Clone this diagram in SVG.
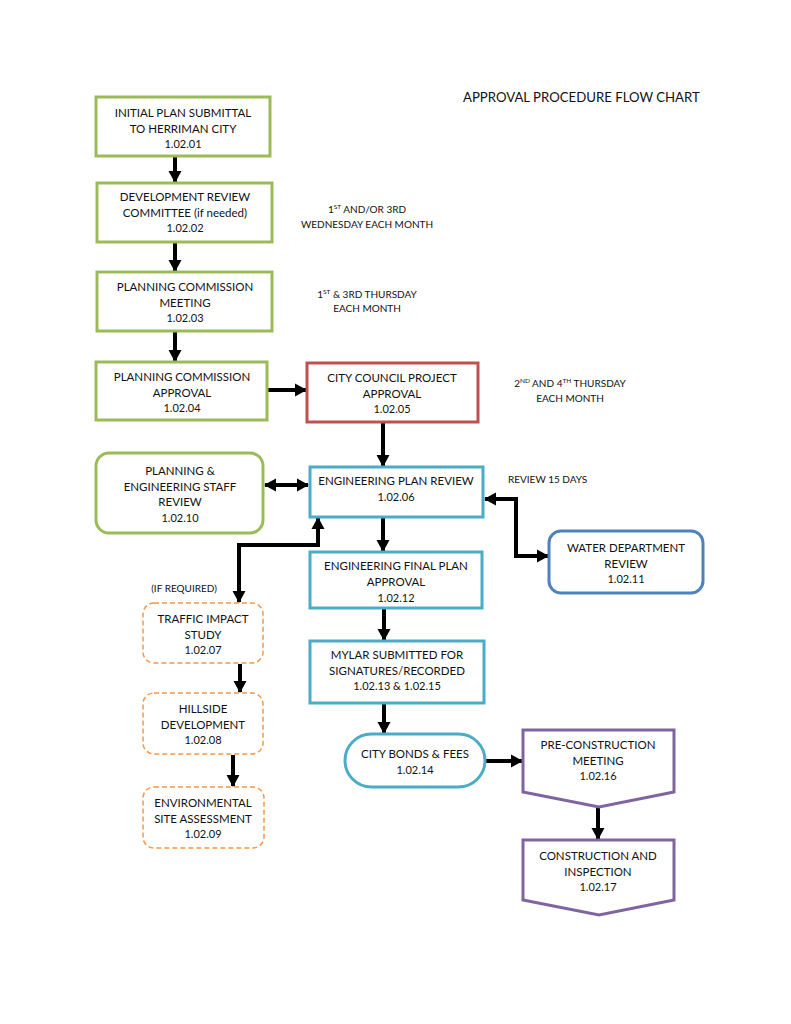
<svg xmlns="http://www.w3.org/2000/svg" width="791" height="1024" viewBox="0 0 791 1024">
<defs>
<style>
text{font-family:Lato,"Open Sans","Liberation Sans",sans-serif;font-size:11.5px;fill:#111;text-anchor:middle}
.n{font-size:11px}
.note{font-size:10px}
.sup{font-size:6.5px}
.title{font-size:13.2px;text-anchor:start}
.g{fill:#fff;stroke:#9BBB59;stroke-width:3}
.r{fill:#fff;stroke:#C0504D;stroke-width:3}
.t{fill:#fff;stroke:#4BACC6;stroke-width:3}
.b{fill:#fff;stroke:#4F81BD;stroke-width:3}
.o{fill:#fff;stroke:#F79646;stroke-width:1.5;stroke-dasharray:5 3}
.p{fill:#fff;stroke:#8064A2;stroke-width:3}
.c{fill:none;stroke:#000;stroke-width:4}
</style>
<marker id="ah" markerUnits="userSpaceOnUse" markerWidth="14" markerHeight="14" refX="11" refY="7" orient="auto-start-reverse">
<path d="M0,0.5 L12,7 L0,13.5 Z" fill="#000"/>
</marker>
</defs>
<rect width="791" height="1024" fill="#fff"/>
<text class="title" x="463" y="102">APPROVAL PROCEDURE FLOW CHART</text>
<g id="connectors">
<path class="c" d="M175,157 V182" marker-end="url(#ah)"/>
<path class="c" d="M175,243 V271" marker-end="url(#ah)"/>
<path class="c" d="M175,332 V361" marker-end="url(#ah)"/>
<path class="c" d="M268,390 H306" marker-end="url(#ah)"/>
<path class="c" d="M383,423 V466" marker-end="url(#ah)"/>
<path class="c" d="M265,485 H308" marker-start="url(#ah)" marker-end="url(#ah)"/>
<path class="c" d="M239,602 V545 H318 V518" marker-start="url(#ah)" marker-end="url(#ah)"/>
<path class="c" d="M485,499 H516 V556 H548" marker-start="url(#ah)" marker-end="url(#ah)"/>
<path class="c" d="M383,518 V551" marker-end="url(#ah)"/>
<path class="c" d="M384,609 V640" marker-end="url(#ah)"/>
<path class="c" d="M384,704 V733" marker-end="url(#ah)"/>
<path class="c" d="M240,664 V692" marker-end="url(#ah)"/>
<path class="c" d="M233,755 V786" marker-end="url(#ah)"/>
<path class="c" d="M486,761 H522" marker-end="url(#ah)"/>
<path class="c" d="M598,808 V839" marker-end="url(#ah)"/>
</g>
<g id="n1"><rect class="g" x="96" y="97" width="174" height="59"/>
<text x="183" y="117">INITIAL PLAN SUBMITTAL</text><text x="183" y="132.5">TO HERRIMAN CITY</text><text class="n" x="183" y="147.5">1.02.01</text></g>
<g id="n2"><rect class="g" x="97" y="183" width="175" height="59"/>
<text x="185" y="201">DEVELOPMENT REVIEW</text><text x="185" y="216.5">COMMITTEE (if needed)</text><text class="n" x="185" y="232">1.02.02</text></g>
<g id="n3"><rect class="g" x="97" y="272" width="175" height="59"/>
<text x="185" y="291">PLANNING COMMISSION</text><text x="185" y="306.5">MEETING</text><text class="n" x="185" y="322">1.02.03</text></g>
<g id="n4"><rect class="g" x="96" y="362" width="171" height="58"/>
<text x="182" y="381">PLANNING COMMISSION</text><text x="182" y="396.5">APPROVAL</text><text class="n" x="182" y="412">1.02.04</text></g>
<g id="n5"><rect class="r" x="307" y="363" width="171" height="59"/>
<text x="392" y="382">CITY COUNCIL PROJECT</text><text x="392" y="398">APPROVAL</text><text class="n" x="392" y="413">1.02.05</text></g>
<g id="n10"><rect class="g" x="96" y="453" width="167" height="80" rx="13"/>
<text x="180" y="475">PLANNING &amp;</text><text x="180" y="490.5">ENGINEERING STAFF</text><text x="180" y="506">REVIEW</text><text class="n" x="180" y="521.5">1.02.10</text></g>
<g id="n6"><rect class="t" x="310" y="467" width="173" height="50"/>
<text x="396" y="485">ENGINEERING PLAN REVIEW</text><text class="n" x="396" y="500.5">1.02.06</text></g>
<g id="n11"><rect class="b" x="549" y="531" width="154" height="62" rx="12"/>
<text x="626" y="552">WATER DEPARTMENT</text><text x="626" y="567.5">REVIEW</text><text class="n" x="626" y="583">1.02.11</text></g>
<g id="n12"><rect class="t" x="310" y="552" width="172" height="56"/>
<text x="396" y="570">ENGINEERING FINAL PLAN</text><text x="396" y="586">APPROVAL</text><text class="n" x="396" y="601.5">1.02.12</text></g>
<g id="n13"><rect class="t" x="310" y="641" width="174" height="62"/>
<text x="397" y="659">MYLAR SUBMITTED FOR</text><text x="397" y="675">SIGNATURES/RECORDED</text><text class="n" x="397" y="690">1.02.13 &amp; 1.02.15</text></g>
<g id="n14"><rect class="t" x="345" y="734" width="140" height="53" rx="26.5"/>
<text x="415" y="758">CITY BONDS &amp; FEES</text><text class="n" x="415" y="773.5">1.02.14</text></g>
<g id="n7"><rect class="o" x="143" y="603" width="120" height="60" rx="11"/>
<text x="203" y="623">TRAFFIC IMPACT</text><text x="203" y="638.5">STUDY</text><text class="n" x="203" y="654">1.02.07</text></g>
<g id="n8"><rect class="o" x="143" y="693" width="120" height="61" rx="11"/>
<text x="203" y="713">HILLSIDE</text><text x="203" y="728.5">DEVELOPMENT</text><text class="n" x="203" y="744">1.02.08</text></g>
<g id="n9"><rect class="o" x="143" y="787" width="121" height="61" rx="11"/>
<text x="203" y="807">ENVIRONMENTAL</text><text x="203" y="822.5">SITE ASSESSMENT</text><text class="n" x="203" y="838">1.02.09</text></g>
<g id="n16"><path class="p" d="M523,730 H674 V792 L599,807 L523,792 Z"/>
<text x="598" y="749">PRE-CONSTRUCTION</text><text x="598" y="765">MEETING</text><text class="n" x="598" y="780">1.02.16</text></g>
<g id="n17"><path class="p" d="M523,840 H674 V900 L599,915 L523,900 Z"/>
<text x="598" y="860">CONSTRUCTION AND</text><text x="598" y="875.5">INSPECTION</text><text class="n" x="598" y="891">1.02.17</text></g>
<g id="notes">
<text class="note" x="367" y="213">1<tspan class="sup" dy="-4">ST</tspan><tspan dy="4"> AND/OR 3RD</tspan></text>
<text class="note" x="367" y="228">WEDNESDAY EACH MONTH</text>
<text class="note" x="367" y="298">1<tspan class="sup" dy="-4">ST</tspan><tspan dy="4"> &amp; 3RD THURSDAY</tspan></text>
<text class="note" x="367" y="312">EACH MONTH</text>
<text class="note" x="570" y="387">2<tspan class="sup" dy="-4">ND</tspan><tspan dy="4"> AND 4</tspan><tspan class="sup" dy="-4">TH</tspan><tspan dy="4"> THURSDAY</tspan></text>
<text class="note" x="570" y="402">EACH MONTH</text>
<text class="note" x="508" y="483" style="text-anchor:start">REVIEW 15 DAYS</text>
<text class="note" x="184" y="592">(IF REQUIRED)</text>
</g>
</svg>
